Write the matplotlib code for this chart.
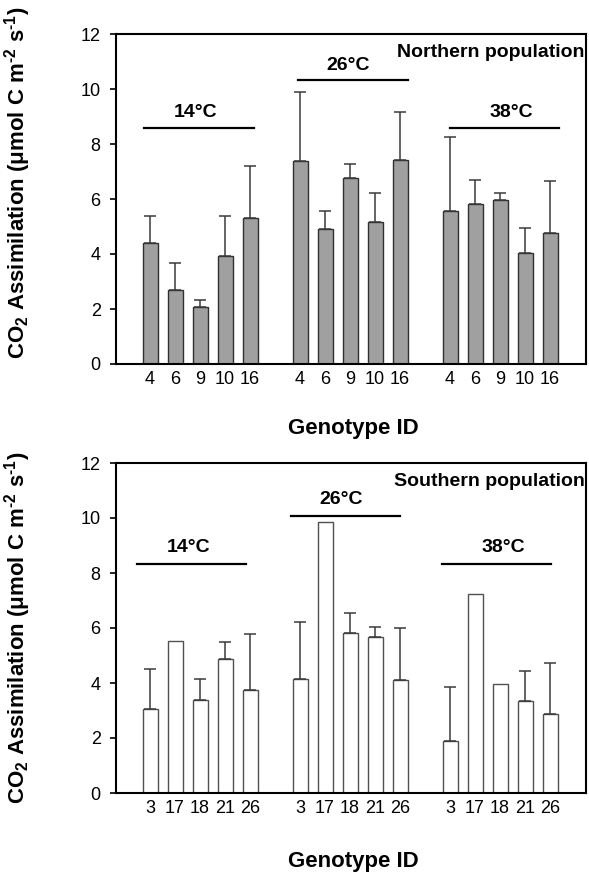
import matplotlib
matplotlib.use("Agg")
import matplotlib.pyplot as plt
import numpy as np

plt.rcParams['font.family'] = ['Liberation Sans', 'DejaVu Sans']
plt.rcParams['mathtext.fontset'] = 'custom'
plt.rcParams['mathtext.rm'] = 'Liberation Sans'
plt.rcParams['mathtext.bf'] = 'Liberation Sans:bold'

# ---- data ----
temps = ["14°C", "26°C", "38°C"]
north_ids = ["4", "6", "9", "10", "16"]
south_ids = ["3", "17", "18", "21", "26"]

north_mean = [4.41, 2.68, 2.07, 3.92, 5.31,
              7.38, 4.90, 6.78, 5.16, 7.41,
              5.56, 5.83, 5.98, 4.02, 4.75]
north_err = [0.97, 1.00, 0.25, 1.45, 1.90,
             2.51, 0.65, 0.50, 1.07, 1.77,
             2.69, 0.86, 0.24, 0.93, 1.90]

south_mean = [3.05, 5.53, 3.38, 4.86, 3.73,
              4.15, 9.85, 5.83, 5.67, 4.10,
              1.90, 7.25, 3.98, 3.33, 2.86]
south_err = [1.47, None, 0.78, 0.63, 2.05,
             2.06, None, 0.72, 0.35, 1.89,
             1.95, None, None, 1.11, 1.87]

# temperature bracket annotations (y level, x start, x end, label x, label y)
north_brackets = [(8.59, -0.26, 4.14, 1.82, 9.14),
                  (10.32, 5.90, 10.30, 7.94, 10.87),
                  (8.58, 11.98, 16.34, 14.46, 9.13)]
south_brackets = [(8.33, -0.54, 3.85, 1.53, 8.92),
                  (10.07, 5.62, 9.98, 7.65, 10.67),
                  (8.33, 11.69, 16.05, 14.14, 8.92)]

W, H = 589, 876
fig = plt.figure(figsize=(W / 100, H / 100), dpi=100)

def axrect(left, top, right, bottom):
    return [left / W, 1 - bottom / H, (right - left) / W, (bottom - top) / H]

ax1 = fig.add_axes(axrect(116, 34, 586, 364))
ax2 = fig.add_axes(axrect(116, 463, 586, 793))

positions = []
for g in range(3):
    for k in range(5):
        positions.append(g * 6 + k)
positions = np.array(positions)

ylabel = r'CO$_{\mathbf{2}}$ Assimilation (μmol C m$^{\mathbf{‐2}}$ s$^{\mathbf{‐1}}$)'

def draw(ax, means, errs, ids, face, edge, brackets, poptext, ylab_y):
    ax.bar(positions, means, width=0.6, color=face, edgecolor=edge,
           linewidth=1.0, zorder=2)
    idx = [i for i, e in enumerate(errs) if e is not None]
    ex = positions[idx]
    ey = np.array([means[i] for i in idx])
    ee = np.array([errs[i] for i in idx])
    ax.errorbar(ex, ey, yerr=[np.zeros_like(ee), ee], fmt='none',
                ecolor='#3a3a3a', elinewidth=1.1, capsize=4, capthick=1.1,
                zorder=3)
    ax.set_xlim(-1.36, 17.44)
    ax.set_ylim(0, 12)
    ax.set_yticks(range(0, 13, 2))
    ax.set_xticks(positions)
    ax.set_xticklabels(ids * 3)
    ax.tick_params(axis='x', length=0, pad=5, labelsize=13)
    ax.tick_params(axis='y', direction='out', length=4, width=1.2, pad=7,
                   labelsize=13)
    for s in ax.spines.values():
        s.set_linewidth(1.5)
        s.set_color('black')
    for (yl, x0, x1, tx, ty), t in zip(brackets, temps):
        ax.plot([x0, x1], [yl, yl], color='black', lw=1.6, zorder=3)
        ax.text(tx, ty, t, ha='center', va='center', fontsize=14,
                fontweight='bold')
    ax.text(0.997, 0.945, poptext, transform=ax.transAxes, ha='right',
            va='center', fontsize=14, fontweight='bold')
    ax.set_ylabel(ylabel, fontsize=16, fontweight='bold')
    ax.yaxis.set_label_coords(-0.177, ylab_y)

draw(ax1, north_mean, north_err, north_ids, '#a0a0a0', '#303030',
     north_brackets, 'Northern population', 0.55)
draw(ax2, south_mean, south_err, south_ids, 'white', '#505050',
     south_brackets, 'Southern population', 0.50)

fig.text(353 / W, 1 - 428.5 / H, 'Genotype ID', ha='center', va='center',
         fontsize=16, fontweight='bold')
fig.text(353 / W, 1 - 861 / H, 'Genotype ID', ha='center', va='center',
         fontsize=16, fontweight='bold')

fig.savefig('out.png', dpi=100)
